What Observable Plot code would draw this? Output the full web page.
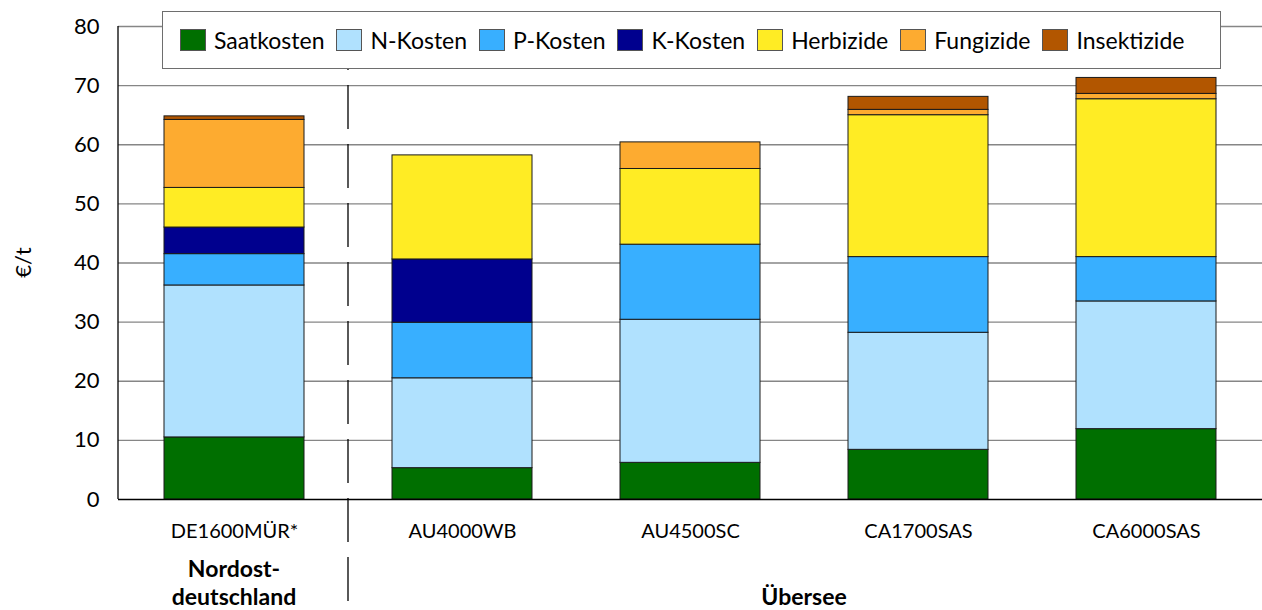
<!DOCTYPE html>
<html><head><meta charset="utf-8">
<script src="https://cdn.jsdelivr.net/npm/d3@7"></script>
<script src="https://cdn.jsdelivr.net/npm/@observablehq/plot@0.6"></script>
<style>
body{margin:0;background:#fff;font-family:Lato, sans-serif;}
#wrap{position:relative;width:1262px;height:610px;overflow:hidden;}
#legend{position:absolute;left:162px;top:11px;width:1059px;height:58px;border:1.3px solid #6e6e6e;background:#fff;box-sizing:border-box;display:flex;align-items:center;padding-left:17px;}
.item{display:flex;align-items:center;margin-right:12px;font-size:23px;color:#000;white-space:nowrap;}
.sw{width:26px;height:22px;border:1px solid #555;box-sizing:border-box;margin-right:8px;}
</style></head>
<body>
<div id="wrap"><div id="chart"></div><div id="legend"></div></div>
<script>
const categories = ["DE1600MÜR*","AU4000WB","AU4500SC","CA1700SAS","CA6000SAS"];
const series = ["Saatkosten","N-Kosten","P-Kosten","K-Kosten","Herbizide","Fungizide","Insektizide"];
const saatkosten  = [10.5, 5.3, 6.2, 8.4, 11.9];
const nKosten     = [25.7, 15.2, 24.2, 19.8, 21.6];
const pKosten     = [5.3, 9.4, 12.7, 12.8, 7.5];
const kKosten     = [4.5, 10.7, 0, 0, 0];
const herbizide   = [6.7, 17.6, 12.8, 24.0, 26.7];
const fungizide   = [11.5, 0, 4.5, 0.9, 0.9];
const insektizide = [0.6, 0, 0, 2.2, 2.7];
const colors = ["#006f00","#b0e1fe","#38afff","#00008e","#ffec24","#fdab30","#b25600"];
const yTicks = [0,10,20,30,40,50,60,70,80];
const yLabel = "€/t";
const groupLabels = [
  {lines:["Nordost-","deutschland"], from:"DE1600MÜR*", to:"DE1600MÜR*"},
  {lines:["Übersee"], from:"AU4000WB", to:"CA6000SAS"}
];

const seriesValues = [saatkosten,nKosten,pKosten,kKosten,herbizide,fungizide,insektizide];
const rows = [];
series.forEach((s,i)=>categories.forEach((c,j)=>{
  if (seriesValues[i][j] > 0) rows.push({cat:c, series:s, value:seriesValues[i][j]});
}));

function decorations(index, scales, values, dims) {
  const x = scales.x, y = scales.y;
  const bw = x.bandwidth ? x.bandwidth() : 0;
  const ns = "http://www.w3.org/2000/svg";
  const g = document.createElementNS(ns, "g");
  const line = (x1,y1,x2,y2,attrs) => {
    const l = document.createElementNS(ns,"line");
    l.setAttribute("x1",x1);l.setAttribute("y1",y1);l.setAttribute("x2",x2);l.setAttribute("y2",y2);
    for (const k in attrs) l.setAttribute(k, attrs[k]);
    g.appendChild(l);
  };
  const bottom = dims.height - dims.marginBottom;
  line(dims.marginLeft, y(0), dims.marginLeft, y(80), {stroke:"#000","stroke-width":1.3});
  const sx = (x(categories[0]) + bw + x(categories[1])) / 2;
  line(sx, y(80), sx, dims.height - 2, {stroke:"#000","stroke-width":1.3,"stroke-dasharray":"44,15"});
  for (const gl of groupLabels) {
    const cx = (x(gl.from) + x(gl.to) + bw) / 2;
    gl.lines.forEach((t,i)=>{
      const tx = document.createElementNS(ns,"text");
      tx.setAttribute("x", cx);
      tx.setAttribute("y", bottom + (gl.lines.length === 1 ? 106 : 78 + i*28));
      tx.setAttribute("text-anchor","middle");
      tx.setAttribute("font-weight","bold");
      tx.setAttribute("font-size","23px");
      tx.textContent = t;
      g.appendChild(tx);
    });
  }
  const yl = document.createElementNS(ns,"text");
  const cy = (y(0)+y(80))/2;
  yl.setAttribute("transform", `translate(31,${cy}) rotate(-90)`);
  yl.setAttribute("text-anchor","middle");
  yl.setAttribute("font-size","22px");
  yl.textContent = yLabel;
  g.appendChild(yl);
  return g;
}

const chart = Plot.plot({
  width:1262, height:610, marginLeft:118, marginRight:0, marginTop:26, marginBottom:111,
  style:{fontFamily:"Lato, sans-serif", fontSize:"20px", color:"#000", background:"#fff"},
  x:{domain:categories, paddingInner:0.384, paddingOuter:0.192, label:null},
  y:{domain:[0,80], label:null},
  color:{domain:series, range:colors},
  marks:[
    Plot.ruleY(yTicks.filter(d=>d>0), {stroke:"#868686", strokeWidth:1.3}),
    Plot.barY(rows, {x:"cat", y:"value", fill:"series", stroke:"#1a1a1a", strokeWidth:1}),
    Plot.ruleY([0], {stroke:"#000", strokeWidth:1.3}),
    Plot.axisY({ticks:yTicks, tickSize:0, tickPadding:19, fontSize:22, label:null}),
    Plot.axisX({tickSize:0, tickPadding:24, fontSize:20, label:null}),
    decorations
  ]
});
document.getElementById("chart").appendChild(chart);

const legend = document.getElementById("legend");
series.forEach((s,i)=>{
  const it = document.createElement("div"); it.className="item";
  const sw = document.createElement("div"); sw.className="sw"; sw.style.background = colors[i];
  const tx = document.createElement("span"); tx.textContent = s;
  it.appendChild(sw); it.appendChild(tx); legend.appendChild(it);
});
</script>
</body></html>
